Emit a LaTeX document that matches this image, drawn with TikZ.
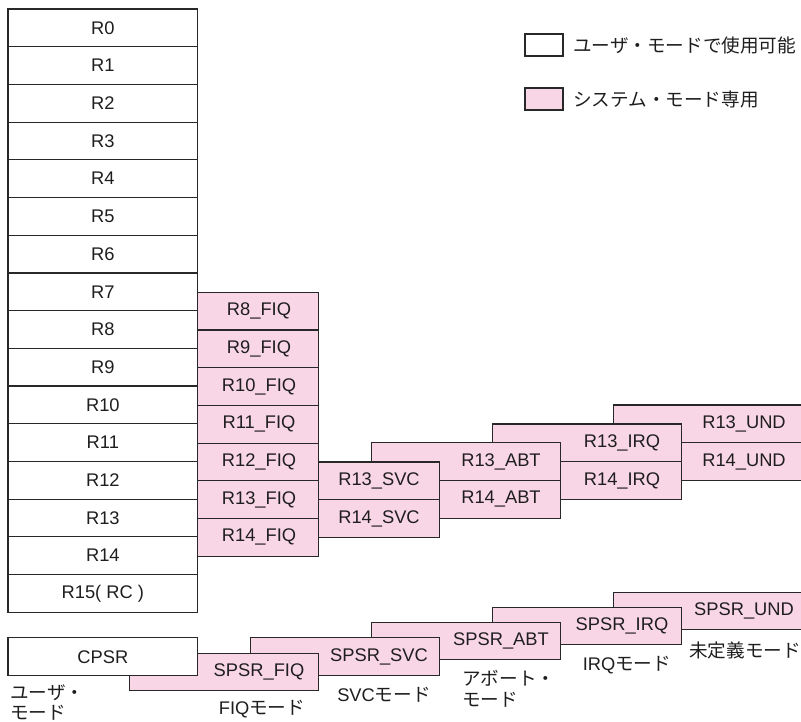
\documentclass[tikz,border=0pt]{standalone}
\usepackage{fontspec}
\setmainfont{Liberation Sans}
\newfontfamily\jpfont{Noto Sans CJK JP}
\definecolor{pinkfill}{RGB}{249,214,230}
\definecolor{edgec}{RGB}{40,40,40}
\definecolor{textc}{RGB}{30,30,30}
\newcommand\latfont{\fontspec{Liberation Sans}\fontsize{18.3}{21}\selectfont}
\newcommand\regcell[6]{% name, x, y(top), height, text x, text
  \node[pbox, minimum height=#4pt] (#1) at (#2,#3) {};
  \node[txt] (#1t) at (#5,{#3+#4/2}) {#6};}
\begin{document}
\begin{tikzpicture}[x=1pt,y=-1pt,
  box/.style={draw=edgec, line width=1.2pt, inner sep=0pt, outer sep=0pt, anchor=north west, minimum width=189pt, minimum height=37.7pt},
  ubox/.style={box, fill=white},
  pbox/.style={box, fill=pinkfill},
  txt/.style={font=\fontsize{18.3}{21}\selectfont, text=textc, inner sep=0pt},
  jtxt/.style={font=\fontsize{18.6}{20.5}\selectfont\jpfont, text=textc, inner sep=0pt, align=left}]
\useasboundingbox (0,0) rectangle (801,721);
\clip (0,0) rectangle (801,721);
% ---- banked registers R13/R14 (back to front)
\regcell{undA}{613.3}{405}{37.7}{744}{R13\_UND}
\regcell{undB}{613.3}{442.7}{37.7}{744}{R14\_UND}
\regcell{irqA}{492.7}{424}{37.7}{622}{R13\_IRQ}
\regcell{irqB}{492.7}{461.7}{37.7}{622}{R14\_IRQ}
\regcell{abtA}{371.7}{442.7}{37.7}{501}{R13\_ABT}
\regcell{abtB}{371.7}{480.4}{37.7}{501}{R14\_ABT}
\regcell{svcA}{250.3}{462}{37.7}{379}{R13\_SVC}
\regcell{svcB}{250.3}{499.7}{37.7}{379}{R14\_SVC}
% ---- FIQ registers
\foreach \k/\t in {0/R8\_FIQ,1/R9\_FIQ,2/R10\_FIQ,3/R11\_FIQ,4/R12\_FIQ,5/R13\_FIQ,6/R14\_FIQ}{
  \node[pbox] (fiq\k) at (129.3,{292.3+37.7*\k}) {};
  \node[txt] (fiq\k t) at (259,{292.3+37.7*\k+18.85}) {\t};
}
% ---- user registers
\foreach \k/\t in {0/R0,1/R1,2/R2,3/R3,4/R4,5/R5,6/R6,7/R7,8/R8,9/R9,10/R10,11/R11,12/R12,13/R13,14/R14,15/{R15( RC )}}{
  \node[ubox, minimum width=189.7pt, font=\fontsize{18.3}{21}\selectfont, text=textc] (r\k) at (8,{9+37.7*\k}) {\t};
}
% ---- status registers (back to front)
\regcell{spsrund}{613.3}{592.3}{37.5}{744}{SPSR\_UND}
\regcell{spsrirq}{492.7}{607.3}{37.5}{622}{SPSR\_IRQ}
\regcell{spsrabt}{371.7}{622.3}{37.5}{501}{SPSR\_ABT}
\regcell{spsrsvc}{250.3}{637.7}{37.5}{379}{SPSR\_SVC}
\regcell{spsrfiq}{129.3}{653.3}{37}{259}{SPSR\_FIQ}
\node[ubox, minimum width=189.7pt, minimum height=38pt, font=\fontsize{18.3}{21}\selectfont, text=textc] (cpsr) at (8,637.7) {CPSR};
% ---- mode labels
\node[jtxt, anchor=west] (lusr) at (10,702.5) {ユーザ・\\モード};
\node[jtxt] (lfiq) at (262,709) {{\latfont FIQ}モード};
\node[jtxt] (lsvc) at (384,695) {{\latfont SVC}モード};
\node[jtxt, anchor=west] (labt) at (462,689) {アボート・\\モード};
\node[jtxt] (lirq) at (627,665) {{\latfont IRQ}モード};
\node[jtxt, anchor=west] (lund) at (689,650) {未定義モード};
% ---- legend
\node[ubox, minimum width=38pt, minimum height=22pt] (leg1) at (525,34) {};
\node[jtxt, anchor=west] (leg1t) at (573,45) {ユーザ・モードで使用可能};
\node[pbox, minimum width=38pt, minimum height=22pt] (leg2) at (525,88) {};
\node[jtxt, anchor=west] (leg2t) at (573,99) {システム・モード専用};
\end{tikzpicture}
\end{document}
